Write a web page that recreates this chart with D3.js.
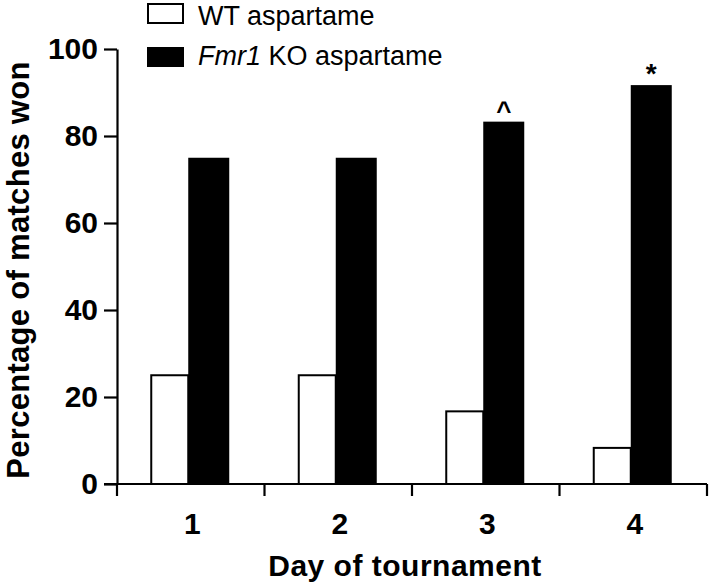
<!DOCTYPE html>
<html><head><meta charset="utf-8">
<script src="https://cdn.jsdelivr.net/npm/d3@7"></script>
<style>
html,body{margin:0;padding:0;background:#fff;}
svg{display:block;font-family:"Liberation Sans",Arial,Helvetica,sans-serif;}
</style></head>
<body>
<script>
const days = ["1","2","3","4"];
const wtValues = [25, 25, 16.7, 8.3];
const koValues = [75, 75, 83.3, 91.7];
const annotations = ["", "", "^", "*"];
const yTicks = [0, 20, 40, 60, 80, 100];
const seriesNames = ["WT aspartame", "KO aspartame"];

const W = 709, H = 588;
const svg = d3.select("body").append("svg").attr("width", W).attr("height", H);

const x0 = 117, x1 = 707, yBottom = 484, yTop = 49;
const x = d3.scaleBand().domain(days).range([x0, x1]).paddingInner(0).paddingOuter(0);
const y = d3.scaleLinear().domain([0, 100]).range([yBottom, yTop]);
const wtW = 37, koW = 41, shift = -2.5;

// bars
const g = svg.append("g");
days.forEach((d, i) => {
  const cx = x(d) + x.bandwidth() / 2 + shift;
  g.append("rect")
    .attr("x", cx - wtW).attr("y", y(wtValues[i]))
    .attr("width", wtW).attr("height", y(0) - y(wtValues[i]))
    .attr("fill", "#fff").attr("stroke", "#000").attr("stroke-width", 2);
  g.append("rect")
    .attr("x", cx).attr("y", y(koValues[i]))
    .attr("width", koW).attr("height", y(0) - y(koValues[i]))
    .attr("fill", "#000");
  if (annotations[i]) {
    g.append("text")
      .attr("x", cx + koW / 2)
      .attr("y", y(koValues[i]) - 2)
      .attr("text-anchor", "middle")
      .attr("font-weight", "bold")
      .attr("font-size", annotations[i] === "*" ? 28 : 26)
      .text(annotations[i]);
  }
});

// y axis
const yAxis = d3.axisLeft(y).tickValues(yTicks).tickSize(13).tickPadding(6).tickSizeOuter(0);
const ya = svg.append("g").attr("transform", `translate(${x0},0)`).call(yAxis);
ya.select(".domain").attr("stroke-width", 2.2);
ya.selectAll(".tick line").attr("stroke-width", 2.2);
ya.selectAll(".tick text").attr("font-size", 30).attr("font-weight", "bold")
  .attr("font-family", "Liberation Sans, Arial, sans-serif").attr("fill", "#000");

// x axis: ticks at band boundaries
const xa = svg.append("g");
xa.append("line").attr("x1", 104).attr("x2", x1).attr("y1", yBottom).attr("y2", yBottom)
  .attr("stroke", "#000").attr("stroke-width", 2.2);
const bounds = days.map(d => x(d)).concat([x(days[days.length - 1]) + x.bandwidth()]);
bounds.forEach(b => {
  xa.append("line").attr("x1", b).attr("x2", b).attr("y1", yBottom).attr("y2", yBottom + 12)
    .attr("stroke", "#000").attr("stroke-width", 2.2);
});
days.forEach(d => {
  xa.append("text").attr("x", x(d) + x.bandwidth() / 2 + 1.5).attr("y", 534)
    .attr("text-anchor", "middle").attr("font-size", 30).attr("font-weight", "bold").text(d);
});

// axis titles
svg.append("text").attr("x", 405).attr("y", 576).attr("text-anchor", "middle")
  .attr("font-size", 30).attr("font-weight", "bold").attr("letter-spacing", 0.5).text("Day of tournament");
svg.append("text").attr("transform", "translate(29,270) rotate(-90)").attr("text-anchor", "middle")
  .attr("font-size", 31).attr("font-weight", "bold").attr("letter-spacing", 0.3).text("Percentage of matches won");

// legend
const lg = svg.append("g");
lg.append("rect").attr("x", 148).attr("y", 4).attr("width", 35).attr("height", 19)
  .attr("fill", "#fff").attr("stroke", "#000").attr("stroke-width", 2);
lg.append("text").attr("x", 198).attr("y", 25).attr("font-size", 27).text(seriesNames[0]);
lg.append("rect").attr("x", 147).attr("y", 47).attr("width", 37).attr("height", 20).attr("fill", "#000");
const t2 = lg.append("text").attr("x", 198).attr("y", 65).attr("font-size", 27);
t2.append("tspan").attr("font-style", "italic").text("Fmr1");
t2.append("tspan").text(" " + seriesNames[1]);
</script>
</body></html>
